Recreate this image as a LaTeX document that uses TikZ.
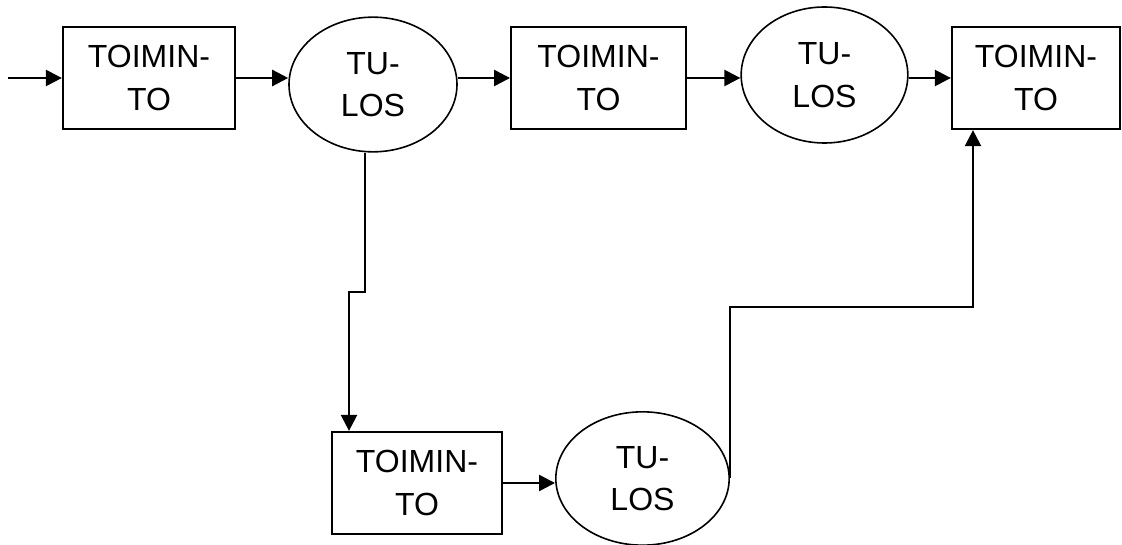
\documentclass[tikz,border=0pt]{standalone}
\usepackage{fontspec}
\setmainfont{Liberation Sans}
\usetikzlibrary{arrows.meta,shapes.geometric}

\begin{document}
\begin{tikzpicture}[x=0.75pt, y=-0.75pt, >={Triangle[length=12pt,width=12pt]},
    txt/.style={align=center, inner sep=0pt, font=\fontsize{24}{32}\selectfont},
    act/.style={txt, draw, line width=1.7pt, minimum width=129pt, minimum height=76.5pt},
    res/.style={txt, draw, ellipse, line width=1.2pt},
    flow/.style={->, line width=1.8pt}]
    \useasboundingbox (0,0) rectangle (1122,545);
    % Upper chain
    \node[act] (act1) at (149,78) {TOIMIN-\\TO};
    \node[res, minimum width=126pt, minimum height=101pt] (res1) at (373,84.5) {TU-\\LOS};
    \node[act, minimum width=131pt] (act2) at (598.5,78) {TOIMIN-\\TO};
    \node[res, minimum width=125pt, minimum height=102pt] (res2) at (824.5,75) {TU-\\LOS};
    \node[act, minimum width=126pt] (act3) at (1036,78) {TOIMIN-\\TO};
    % Lower branch
    \node[act, minimum width=127.5pt] (act4) at (417,483) {TOIMIN-\\TO};
    \node[res, minimum width=130pt, minimum height=100pt] (res3) at (642.5,478.5) {TU-\\LOS};
    % Bends
    \coordinate (in) at (8,78);
    \coordinate (jog) at (349,292);
    \coordinate (rise) at (973,307);
    % Main flow
    \draw[flow] (in) -- (act1.west);
    \draw[flow] (act1.east) -- (act1.east -| res1.west);
    \draw[flow] (res1.east |- act2.west) -- (act2.west);
    \draw[flow] (act2.east) -- (act2.east -| res2.west);
    \draw[flow] (res2.east |- act3.west) -- (act3.west);
    % Branch down and back up
    \draw[flow] ([xshift=-6pt]res1.south) |- (jog) -- (jog |- act4.north);
    \draw[flow] (act4.east) -- (act4.east -| res3.west);
    \draw[flow] (res3.east) |- (rise) -- (rise |- act3.south);
\end{tikzpicture}
\end{document}
